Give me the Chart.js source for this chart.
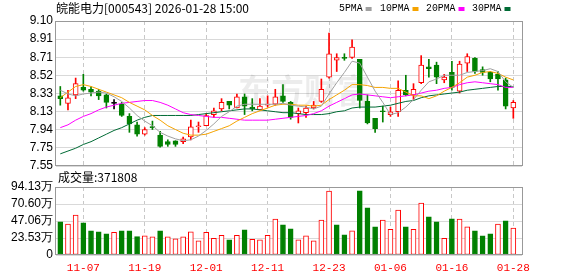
<!DOCTYPE html>
<html><head><meta charset="utf-8">
<script src="https://cdn.jsdelivr.net/npm/chart.js@4.4.1/dist/chart.umd.min.js"></script>
<style>
html,body{margin:0;padding:0;background:#fff;width:578px;height:276px;overflow:hidden;}
#wrap{position:relative;width:578px;height:276px;}
#pc{position:absolute;left:0;top:0;}
#vc{position:absolute;left:0;top:168px;}
</style></head><body>
<div id="wrap">
<canvas id="pc" width="578" height="180" style="width:578px;height:180px"></canvas>
<canvas id="vc" width="578" height="108" style="width:578px;height:108px"></canvas>
</div>
<script>
// ---------- data ----------
const stockTitle = "皖能电力[000543] 2026-01-28 15:00";
const dates = ["11-04","11-05","11-06","11-07","11-10","11-11","11-12","11-13","11-14","11-17",
 "11-18","11-19","11-20","11-21","11-24","11-25","11-26","11-27","11-28","12-01",
 "12-02","12-03","12-04","12-05","12-08","12-09","12-10","12-11","12-12","12-15",
 "12-16","12-17","12-18","12-19","12-22","12-23","12-24","12-25","12-26","12-29",
 "12-30","12-31","01-05","01-06","01-07","01-08","01-09","01-12","01-13","01-14",
 "01-15","01-16","01-19","01-20","01-21","01-22","01-23","01-26","01-27","01-28"];
const opens  = [8.30,8.22,8.31,8.39,8.37,8.35,8.31,8.22,8.21,8.08, 7.99,7.89,7.97,7.88,7.81,7.82,7.81,7.86,7.97,7.98,
                8.10,8.16,8.24,8.17,8.29,8.18,8.15,8.20,8.21,8.30, 8.23,8.11,8.12,8.17,8.24,8.50,8.68,8.71,8.71,8.69,
                8.24,8.06,8.14,8.10,8.13,8.36,8.31,8.44,8.61,8.63, 8.47,8.55,8.35,8.65,8.70,8.58,8.55,8.53,8.47,8.17];
const highs  = [8.40,8.36,8.49,8.53,8.40,8.37,8.32,8.26,8.23,8.11, 8.02,7.96,8.03,7.92,7.83,7.82,7.86,8.04,8.02,8.11,
                8.17,8.27,8.24,8.32,8.32,8.27,8.27,8.30,8.37,8.42, 8.24,8.17,8.19,8.24,8.48,8.97,8.75,8.75,8.90,8.69,
                8.31,8.06,8.19,8.18,8.46,8.52,8.43,8.73,8.69,8.66, 8.53,8.67,8.67,8.75,8.71,8.61,8.56,8.56,8.49,8.25];
const lows   = [8.20,8.15,8.27,8.35,8.30,8.26,8.17,8.16,8.08,7.91, 7.87,7.88,7.94,7.75,7.76,7.76,7.79,7.83,7.91,7.98,
                8.07,8.14,8.16,8.17,8.10,8.14,8.15,8.18,8.20,8.23, 8.05,8.01,8.07,8.16,8.23,8.49,8.56,8.68,8.70,8.17,
                8.00,7.91,8.02,8.08,8.08,8.30,8.26,8.43,8.50,8.43, 8.44,8.36,8.33,8.56,8.54,8.52,8.45,8.36,8.16,8.06];
const closes = [8.27,8.28,8.43,8.36,8.34,8.30,8.23,8.22,8.09,8.00, 7.89,7.94,7.96,7.76,7.78,7.78,7.84,7.97,7.98,8.09,
                8.14,8.23,8.20,8.29,8.19,8.16,8.19,8.21,8.29,8.24, 8.07,8.14,8.17,8.20,8.37,8.75,8.71,8.70,8.82,8.25,
                8.01,7.95,8.13,8.13,8.36,8.31,8.37,8.63,8.59,8.50, 8.50,8.39,8.64,8.72,8.56,8.55,8.48,8.48,8.19,8.23];
// volume in lots (手)
const volumes = [459000,427000,552000,445000,334000,320000,292000,315000,334000,334000,
                 255000,264000,250000,334000,250000,223000,250000,320000,195000,315000,
                 232000,274000,209000,274000,348000,218000,209000,274000,496000,417000,
                 362000,209000,264000,195000,482000,886000,417000,278000,334000,890000,
                 654000,390000,482000,357000,621000,390000,357000,719000,529000,459000,
                 232000,501000,496000,390000,334000,264000,292000,427000,473000,371808];
// 1 = volume bar drawn as rising (red), 0 = falling (green)
const volUp = [0,1,1,0,0,0,0,1,0,0, 0,1,1,0,1,1,1,1,1,1, 1,1,0,1,0,1,1,1,1,0,
               0,1,1,1,1,1,0,0,1,0, 0,0,1,1,1,0,1,1,0,0, 1,0,1,1,0,0,0,1,0,1];
const ma5  = [8.36,8.32,8.30,8.32,8.33,8.34,8.33,8.29,8.24,8.17, 8.09,8.03,7.98,7.91,7.87,7.84,7.82,7.83,7.87,7.93,
              8.00,8.08,8.13,8.19,8.21,8.21,8.21,8.21,8.21,8.22, 8.20,8.19,8.18,8.16,8.19,8.32,8.44,8.55,8.67,8.65,
              8.50,8.35,8.23,8.10,8.12,8.18,8.26,8.36,8.45,8.48, 8.52,8.52,8.52,8.55,8.56,8.57,8.59,8.56,8.45,8.39];
const ma10 = [8.28,8.34,8.40,8.42,8.40,8.37,8.34,8.31,8.28,8.23, 8.19,8.15,8.09,8.04,7.98,7.94,7.90,7.88,7.88,7.89,
              7.92,7.95,7.98,8.03,8.07,8.11,8.14,8.17,8.20,8.21, 8.21,8.20,8.20,8.19,8.20,8.26,8.31,8.36,8.42,8.42,
              8.41,8.39,8.39,8.38,8.38,8.34,8.30,8.30,8.27,8.30, 8.35,8.39,8.44,8.50,8.52,8.55,8.56,8.54,8.50,8.47];
const ma20 = [7.96,7.99,8.04,8.08,8.11,8.15,8.18,8.20,8.22,8.23, 8.24,8.25,8.25,8.23,8.20,8.16,8.12,8.10,8.09,8.08,
              8.07,8.07,8.06,8.05,8.04,8.04,8.04,8.04,8.05,8.06, 8.07,8.08,8.09,8.11,8.14,8.19,8.23,8.27,8.31,8.32,
              8.31,8.30,8.29,8.28,8.29,8.30,8.31,8.33,8.35,8.36, 8.38,8.39,8.42,8.44,8.45,8.44,8.43,8.42,8.39,8.39];
const ma30 = [7.68,7.71,7.74,7.78,7.81,7.85,7.89,7.93,7.96,8.00, 8.04,8.07,8.09,8.09,8.09,8.09,8.09,8.09,8.10,8.11,
              8.12,8.13,8.14,8.15,8.16,8.16,8.15,8.14,8.13,8.12, 8.12,8.11,8.10,8.10,8.10,8.11,8.13,8.14,8.17,8.18,
              8.18,8.18,8.19,8.20,8.22,8.24,8.25,8.28,8.30,8.31, 8.32,8.33,8.34,8.36,8.37,8.38,8.39,8.40,8.40,8.40];
const shownDates = ["11-07","11-19","12-01","12-11","12-23","01-06","01-16","01-28"];
const priceTickLabels = ["7.55","7.75","7.94","8.13","8.33","8.52","8.71","8.91","9.10"];
const priceMin = 7.55, priceMax = 9.10;
const volTickLabels = ["0","23.53万","47.06万","70.60万","94.13万"];
const volMax = 941300;
const lastVolumeText = "成交量:371808";
const maNames = ["5PMA","10PMA","20PMA","30PMA"];

// ---------- styles ----------
const RED = '#ff0000', GREEN = '#008000', BLACK = '#000000';
const MA_COLORS = ['#a0a0a0','#f5a300','#ff00ff','#006b35'];
const X_MIN = -0.56, X_MAX = 60.13;
const idx = dates.map((d,i)=>i);
const labelIdx = shownDates.map(d=>dates.indexOf(d));
const candleColor = i => closes[i] > opens[i] ? RED : (closes[i] < opens[i] ? GREEN : BLACK);

const frame = {
  id:'frame',
  beforeDatasetsDraw(chart, args, opts){
    if (opts.watermark){
      const c = chart.ctx; c.save();
      c.fillStyle = 'rgba(0,0,0,0.075)';
      c.font = 'bold 33px "Noto Sans CJK SC"';
      c.textBaseline = 'middle'; c.textAlign = 'left';
      c.fillText('东方财富', 238, 90);
      c.restore();
    }
  },
  afterDatasetsDraw(chart){
    const a = chart.chartArea, c = chart.ctx;
    c.save(); c.strokeStyle = '#999999'; c.lineWidth = 1;
    c.strokeRect(a.left - 0.5, a.top + 0.5, a.right - a.left + 1, a.bottom - a.top - 1);
    c.restore();
  },
  afterDraw(chart, args, opts){
    const c = chart.ctx; c.save();
    c.textBaseline = 'middle'; c.fillStyle = '#000';
    if (opts.title){
      c.font = '12px "Noto Sans CJK SC"'; c.textAlign = 'left';
      c.fillText(stockTitle, 56, 8);
      c.font = '11px "Liberation Mono"';
      const xs = [339, 380, 426, 472];
      maNames.forEach((n,k)=>{
        const w = n.length * 5.9;
        c.fillStyle = '#000';
        c.fillText(n, xs[k], 8.5, w);
        c.fillStyle = MA_COLORS[k];
        c.fillRect(xs[k] + w + 3, 7, 6, 4);
      });
    }
    if (opts.vol){
      c.font = '12px "Noto Sans CJK SC"'; c.textAlign = 'left';
      c.fillText(lastVolumeText, 58, 9.5);
    }
    c.restore();
  }
};

const xScale = (showLabels) => ({
  type:'linear', min:X_MIN, max:X_MAX, offset:false,
  afterBuildTicks: s => { s.ticks = labelIdx.map(v=>({value:v})); },
  ticks:{ display:showLabels, autoSkip:false, maxRotation:0, padding:6, color:RED,
          font:{family:'Liberation Mono', size:11},
          callback: v => dates[v] },
  grid:{ color:'#c8c8c8', lineWidth:1, drawTicks:false, offset:false },
  border:{ display:false, dash:[4,3] },
  afterFit: s => { s.height = showLabels ? 21 : 0; }
});

const yTicks = (labels) => ({ autoSkip:false, callback:(v,k)=>labels[k], color:'#000', padding:3,
                              font:{family:'Liberation Sans', size:12} });

new Chart(document.getElementById('pc'), {
  data:{ datasets:[
    ...[ma5,ma10,ma20,ma30].map((m,k)=>({
      type:'line', label:maNames[k], data: idx.map(i=>({x:i,y:m[i]})),
      borderColor:MA_COLORS[k], borderWidth:1, pointRadius:0, tension:0, order:1+k*0.1
    })),
    { type:'bar', label:'body', data: idx.map(i=>({x:i, y:[opens[i], closes[i]]})),
      backgroundColor: ctx => closes[ctx.dataIndex] > opens[ctx.dataIndex] ? '#ffffff' : candleColor(ctx.dataIndex),
      borderColor: ctx => candleColor(ctx.dataIndex),
      borderWidth:1, borderSkipped:false, barThickness:5, grouped:false, minBarLength:1, order:5 },
    { type:'bar', label:'wick', data: idx.map(i=>({x:i, y:[lows[i], highs[i]]})),
      backgroundColor: ctx => candleColor(ctx.dataIndex),
      borderWidth:0, barThickness:1, grouped:false, order:6 }
  ]},
  options:{
    responsive:false, animation:false, devicePixelRatio:1,
    layout:{ padding:{ left:0, right:56, top:21, bottom:14 } },
    plugins:{ legend:{display:false}, tooltip:{enabled:false}, frame:{title:true, watermark:true} },
    scales:{
      x: xScale(false),
      y: { min:priceMin, max:priceMax,
           afterBuildTicks: s => { s.ticks = priceTickLabels.map((l,k)=>({value: priceMin + k*(priceMax-priceMin)/(priceTickLabels.length-1)})); },
           ticks: yTicks(priceTickLabels),
           grid:{ color:'#d9d9d9', drawTicks:false },
           border:{ display:false },
           afterFit: s => { s.width = 56; } }
    }
  },
  plugins:[frame]
});

new Chart(document.getElementById('vc'), {
  data:{ datasets:[
    { type:'bar', label:'成交量', data: idx.map(i=>({x:i, y:volumes[i]})),
      backgroundColor: ctx => volUp[ctx.dataIndex] ? '#ffffff' : GREEN,
      borderColor: ctx => volUp[ctx.dataIndex] ? RED : GREEN,
      borderWidth:1, borderSkipped:false, barThickness:5, grouped:false }
  ]},
  options:{
    responsive:false, animation:false, devicePixelRatio:1,
    layout:{ padding:{ left:0, right:56, top:19, bottom:0 } },
    plugins:{ legend:{display:false}, tooltip:{enabled:false}, frame:{vol:true} },
    scales:{
      x: xScale(true),
      y: { min:0, max:volMax,
           afterBuildTicks: s => { s.ticks = volTickLabels.map((l,k)=>({value: k*volMax/(volTickLabels.length-1)})); },
           ticks: yTicks(volTickLabels),
           grid:{ color:'#d9d9d9', drawTicks:false },
           border:{ display:false },
           afterFit: s => { s.width = 56; } }
    }
  },
  plugins:[frame]
});
</script>
</body></html>
